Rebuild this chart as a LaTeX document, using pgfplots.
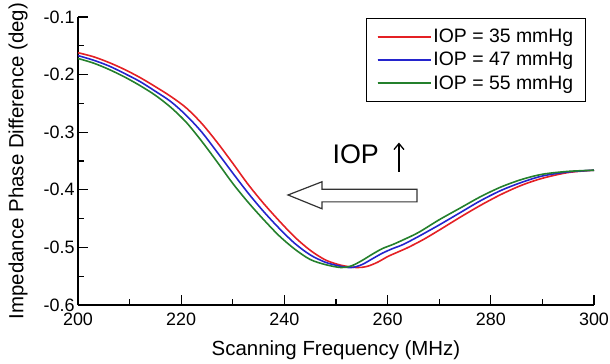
\documentclass[border=0pt]{standalone}
\usepackage{pgfplots}
\pgfplotsset{compat=1.18}
\usetikzlibrary{arrows.meta}
\usepackage{fontspec}
\setmainfont{Liberation Sans}

\definecolor{iopred}{RGB}{228,32,36}
\definecolor{iopblue}{RGB}{36,36,205}
\definecolor{iopgreen}{RGB}{36,128,44}

\begin{document}
\begin{tikzpicture}
\begin{axis}[
  name=ax,
  scale only axis,
  width=516bp, height=288bp,
  xmin=200, xmax=300,
  ymin=-0.6, ymax=-0.1,
  axis lines=left,
  axis line style={line width=1.6bp, -},
  xtick={200,220,...,300},
  ytick={-0.6,-0.5,...,-0.1},
  minor x tick num=1,
  minor y tick num=1,
  tick align=inside,
  major tick length=10bp,
  minor tick length=6bp,
  tick style={line width=1.3bp, black},
  /pgf/number format/assume math mode=true,
  tick label style={font=\fontsize{18}{20}\selectfont},
  yticklabel style={/pgf/number format/.cd, fixed, fixed zerofill, precision=1},
  xticklabel style={yshift=-4bp, /pgf/number format/.cd, fixed, precision=0, 1000 sep={}},
  label style={font=\fontsize{20.5}{23}\selectfont},
  xlabel={Scanning Frequency (MHz)},
  ylabel={Impedance Phase Difference (deg)},
  xlabel style={at={(axis description cs:0.5,0)}, anchor=north, yshift=-32bp},
  ylabel style={yshift=9bp},
  legend style={
    at={(axis description cs:0.984,0.997)}, anchor=north east,
    draw=black, line width=1bp, fill=white,
    font=\fontsize{19.5}{22}\selectfont,
    inner xsep=10bp, inner ysep=9bp,
    row sep=4bp,
  },
  legend cell align=left,
  legend image post style={line width=1.6bp},
  legend image code/.code={%
    \draw[#1] (0bp,0bp) -- (47bp,0bp);
    \path (0bp,0bp) -- (53bp,0bp);},
  clip=false,
]
% red: IOP = 35 mmHg
\addplot[iopred, line width=1.6bp, smooth] table {
200 -0.162
203 -0.169
206 -0.179
209 -0.191
212 -0.205
215 -0.221
218 -0.238
221 -0.258
224 -0.285
227 -0.318
230 -0.354
233 -0.391
236 -0.424
239 -0.454
242 -0.482
245 -0.505
248 -0.522
251 -0.531
254 -0.535
256 -0.533
258 -0.526
260 -0.516
262 -0.508
264 -0.500
267 -0.486
270 -0.470
274 -0.448
278 -0.427
282 -0.408
286 -0.392
290 -0.380
295 -0.370
300 -0.366
};
\addlegendentry{IOP = 35 mmHg}
% blue: IOP = 47 mmHg
\addplot[iopblue, line width=1.6bp, smooth] table {
200 -0.167
203 -0.175
206 -0.185
209 -0.198
212 -0.212
215 -0.229
218 -0.247
221 -0.271
224 -0.300
227 -0.335
230 -0.371
233 -0.406
236 -0.438
239 -0.467
242 -0.493
245 -0.513
248 -0.526
251 -0.533
253 -0.535
255 -0.530
257 -0.520
259 -0.510
261 -0.502
263 -0.495
266 -0.481
270 -0.461
274 -0.440
278 -0.419
282 -0.401
286 -0.387
290 -0.376
295 -0.369
300 -0.366
};
\addlegendentry{IOP = 47 mmHg}
% green: IOP = 55 mmHg
\addplot[iopgreen, line width=1.6bp, smooth] table {
200 -0.172
203 -0.180
206 -0.191
209 -0.204
212 -0.219
215 -0.236
218 -0.257
221 -0.283
224 -0.316
227 -0.352
230 -0.389
233 -0.422
236 -0.452
239 -0.480
242 -0.503
245 -0.521
248 -0.530
251 -0.535
253 -0.532
255 -0.523
257 -0.512
259 -0.502
261 -0.495
263 -0.487
266 -0.474
270 -0.452
274 -0.432
278 -0.412
282 -0.395
286 -0.382
290 -0.373
295 -0.368
300 -0.366
};
\addlegendentry{IOP = 55 mmHg}

% hollow arrow showing the shift direction
\draw[line width=1.2bp, black!80, fill=white]
  (axis cs:240.7,-0.409) -- (axis cs:247.3,-0.386) -- (axis cs:247.3,-0.399)
  -- (axis cs:265.7,-0.399) -- (axis cs:265.7,-0.421) -- (axis cs:247.3,-0.421)
  -- (axis cs:247.3,-0.433) -- cycle;
\node[font=\fontsize{27}{30}\selectfont, anchor=base west, inner sep=0pt]
  at (axis cs:249.3,-0.354) {IOP};
\draw[line width=1.4bp, -{Straight Barb[length=6bp, width=10bp, line width=1.3bp]}]
  (axis cs:262.2,-0.369) -- (axis cs:262.2,-0.318);
\end{axis}
\pgfresetboundingbox
\path[use as bounding box] (-78bp,-59bp) rectangle (532bp,305bp);
\end{tikzpicture}
\end{document}
